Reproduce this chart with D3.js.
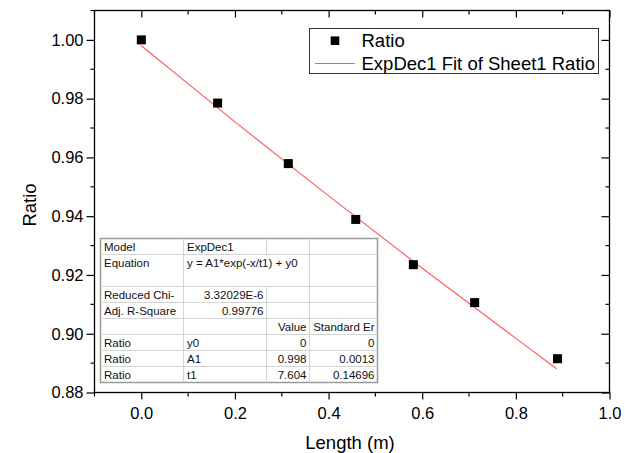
<!DOCTYPE html>
<html><head><meta charset="utf-8">
<script src="https://cdn.jsdelivr.net/npm/d3@7"></script>
<style>body{margin:0;background:#fff}svg{display:block;font-family:"Liberation Sans",Arial,sans-serif}</style>
</head><body><svg id="c" width="625" height="453"></svg>
<script>
const lengthM = [0, 0.163, 0.314, 0.458, 0.581, 0.712, 0.889];
const ratio = [1.000, 0.9785, 0.9579, 0.9389, 0.9235, 0.9106, 0.8915];
const fitX = [0, 0.2, 0.4, 0.6, 0.8, 0.887];
const fitY = [0.998, 0.9721, 0.9469, 0.9223, 0.8984, 0.8881];
const xTicks = [0.0, 0.2, 0.4, 0.6, 0.8, 1.0];
const yTicks = [0.88, 0.90, 0.92, 0.94, 0.96, 0.98, 1.00];
const legendLabels = ["Ratio", "ExpDec1 Fit of Sheet1 Ratio"];
const tableRows = [
  ["Model", "ExpDec1", "", ""],
  ["Equation", "y = A1*exp(-x/t1) + y0", "", ""],
  ["Reduced Chi-", "3.32029E-6", "", ""],
  ["Adj. R-Square", "0.99776", "", ""],
  ["", "", "Value", "Standard Er"],
  ["Ratio", "y0", "0", "0"],
  ["Ratio", "A1", "0.998", "0.0013"],
  ["Ratio", "t1", "7.604", "0.14696"]
];

const svg = d3.select("#c");
const L = 94.5, R = 609.5, T = 10.5, B = 392.5;
const x = d3.scaleLinear().domain([-0.1, 1.0]).range([L, R]);
const y = d3.scaleLinear().domain([0.88, 1.01]).range([B, T]);

const xMinor = d3.range(-0.1, 1.0001, 0.1).map(v => +v.toFixed(2)).filter(v => !xTicks.some(t => Math.abs(t - v) < 1e-6));
const yMinor = d3.range(0.89, 1.0101, 0.02).map(v => +v.toFixed(3));

const g = svg.append("g");
g.append("rect").attr("x", L).attr("y", T).attr("width", R - L).attr("height", B - T)
  .attr("fill", "none").attr("stroke", "#000").attr("stroke-width", 1.3);

const xAx = g.append("g").attr("transform", `translate(0,${B})`)
  .call(d3.axisBottom(x).tickValues(xTicks).tickFormat(d3.format(".1f")).tickSize(7).tickPadding(8));
xAx.append("g").selectAll("line").data(xMinor).join("line")
  .attr("x1", d => x(d)).attr("x2", d => x(d)).attr("y1", 0).attr("y2", 4);
const yAx = g.append("g").attr("transform", `translate(${L},0)`)
  .call(d3.axisLeft(y).tickValues(yTicks).tickFormat(d3.format(".2f")).tickSize(8).tickPadding(3));
yAx.append("g").selectAll("line").data(yMinor).join("line")
  .attr("y1", d => y(d)).attr("y2", d => y(d)).attr("x1", 0).attr("x2", -4);
const tAx = g.append("g").attr("transform", `translate(0,${T})`)
  .call(d3.axisBottom(x).tickValues(xTicks).tickFormat("").tickSize(7));
tAx.append("g").selectAll("line").data(xMinor).join("line")
  .attr("x1", d => x(d)).attr("x2", d => x(d)).attr("y1", 0).attr("y2", 4);
const rAx = g.append("g").attr("transform", `translate(${R},0)`)
  .call(d3.axisLeft(y).tickValues(yTicks).tickFormat("").tickSize(8));
rAx.append("g").selectAll("line").data(yMinor).join("line")
  .attr("y1", d => y(d)).attr("y2", d => y(d)).attr("x1", 0).attr("x2", -4);

[xAx, yAx, tAx, rAx].forEach(a => {
  a.select(".domain").remove();
  a.selectAll("line").attr("stroke", "#000").attr("stroke-width", 1.2);
  a.selectAll("text").attr("font-size", 16.5).attr("fill", "#000").attr("font-family", "Liberation Sans, Arial, sans-serif");
});

svg.append("text").attr("x", 350).attr("y", 449).attr("text-anchor", "middle")
  .attr("font-size", 18.5).text("Length (m)");
svg.append("text").attr("transform", "translate(36,205) rotate(-90)").attr("text-anchor", "middle")
  .attr("font-size", 18.5).text("Ratio");

svg.append("path").datum(fitX.map((d, i) => [d, fitY[i]]))
  .attr("d", d3.line().x(d => x(d[0])).y(d => y(d[1])))
  .attr("fill", "none").attr("stroke", "#ff5a5a").attr("stroke-width", 1.1);

const S = 9;
svg.append("g").selectAll("rect").data(lengthM.map((d, i) => [d, ratio[i]])).join("rect")
  .attr("x", d => x(d[0]) - S / 2).attr("y", d => y(d[1]) - S / 2)
  .attr("width", S).attr("height", S).attr("fill", "#000");

// legend
const lg = svg.append("g");
lg.append("rect").attr("x", 309.5).attr("y", 28.5).attr("width", 289).attr("height", 45)
  .attr("fill", "#fff").attr("stroke", "#333").attr("stroke-width", 1);
lg.append("rect").attr("x", 330.7).attr("y", 36.4).attr("width", 8.6).attr("height", 8.6).attr("fill", "#000");
lg.append("line").attr("x1", 315).attr("x2", 355).attr("y1", 63.5).attr("y2", 63.5)
  .attr("stroke", "#ff5a5a").attr("stroke-width", 1.1);
lg.selectAll("text").data(legendLabels).join("text")
  .attr("x", 361.5).attr("y", (d, i) => 47 + i * 23).attr("font-size", 18.5).text(d => d);

// fit table
const tb = svg.append("g");
const colX = [100.5, 183.5, 266.5, 309.5, 377.5];
const rowH = 16;
const rowSpan = [1, 2, 1, 1, 1, 1, 1, 1];
const top0 = 238.5;
const rowTops = [];
let acc = top0;
rowSpan.forEach(s => { rowTops.push(acc); acc += s * rowH; });
const bottom = acc;
tb.append("rect").attr("x", colX[0]).attr("y", top0).attr("width", colX[4] - colX[0]).attr("height", bottom - top0)
  .attr("fill", "#fff").attr("stroke", "#9a9a9a").attr("stroke-width", 1.5);
tb.selectAll("line.h").data(rowTops.slice(1)).join("line").attr("class", "h")
  .attr("x1", colX[0]).attr("x2", colX[4]).attr("y1", d => d).attr("y2", d => d)
  .attr("stroke", "#d4d4d4");
[1, 2, 3].forEach(ci => {
  rowTops.forEach((rt, ri) => {
    if (ri === 1 && ci === 2) return;
    tb.append("line").attr("x1", colX[ci]).attr("x2", colX[ci])
      .attr("y1", rt).attr("y2", rt + rowSpan[ri] * rowH).attr("stroke", "#d4d4d4");
  });
});
tableRows.forEach((row, ri) => {
  row.forEach((txt, ci) => {
    if (!txt) return;
    const right = (ri === 4 || ci >= 2 || ri === 2 || ri === 3) && ci >= 1;
    tb.append("text")
      .attr("x", right ? colX[ci + 1] - 3 : colX[ci] + 3.5)
      .attr("y", rowTops[ri] + 12)
      .attr("text-anchor", right ? "end" : "start")
      .attr("font-size", 11.5).attr("fill", "#111").text(txt);
  });
});
</script></body></html>
